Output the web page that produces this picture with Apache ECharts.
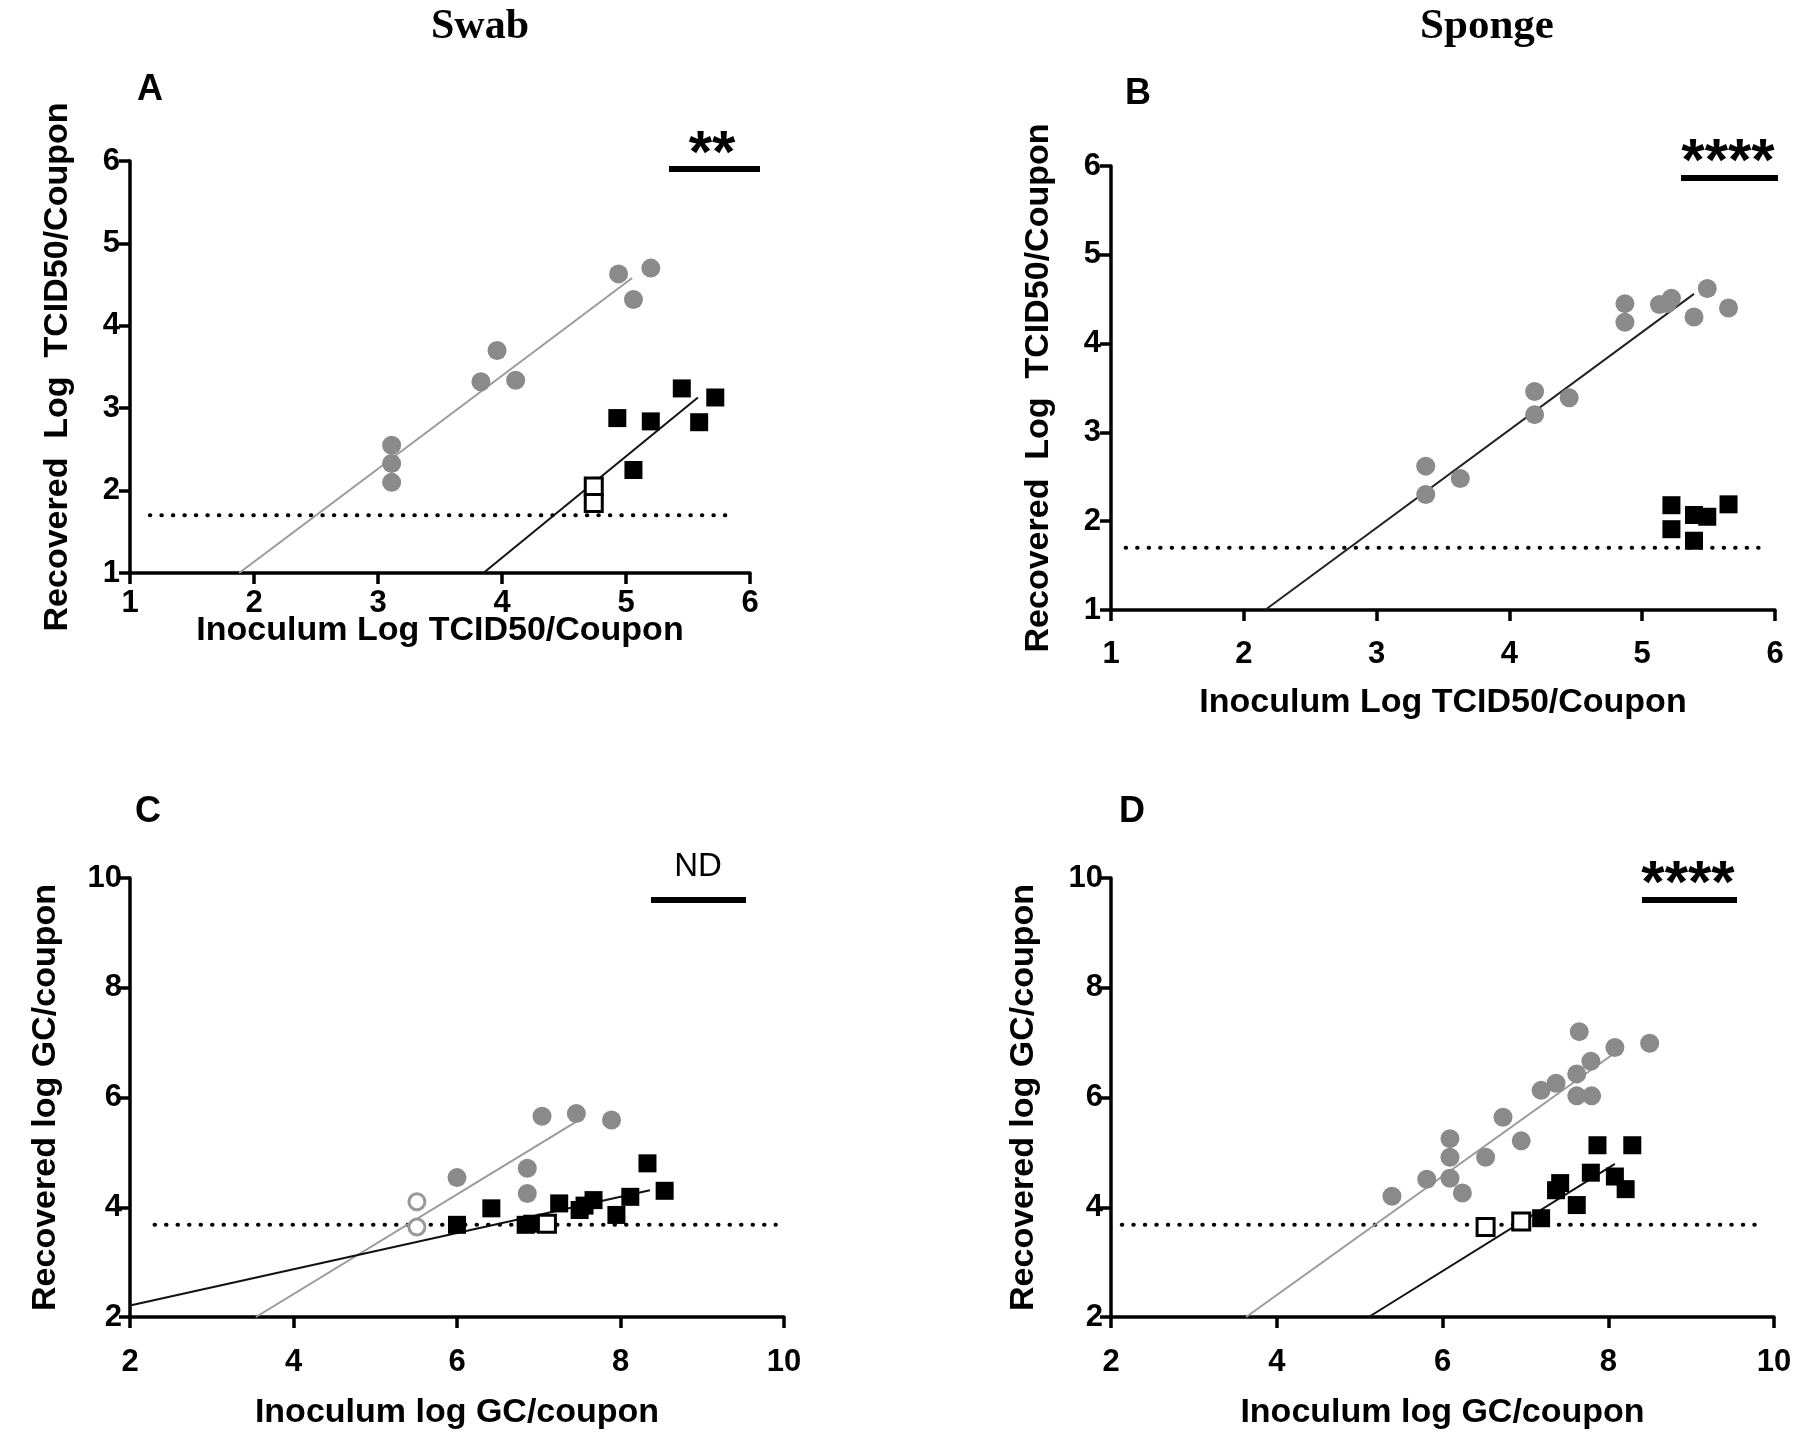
<!DOCTYPE html>
<html>
<head>
<meta charset="utf-8">
<script src="https://cdn.jsdelivr.net/npm/echarts@6/dist/echarts.min.js"></script>
<style>
  html, body { margin: 0; padding: 0; background: #fff; }
  #chart { width: 1800px; height: 1442px; }
</style>
</head>
<body>
<div id="chart"></div>
<script>
// panel A - swab, infectivity
const aGray = [[3.11, 2.55], [3.11, 2.33], [3.11, 2.10], [3.83, 3.32], [3.96, 3.70], [4.11, 3.34], [4.94, 4.63], [5.06, 4.32], [5.20, 4.70]];
const aBlack = [[4.93, 2.88], [5.06, 2.25], [5.20, 2.84], [5.45, 3.24], [5.59, 2.83], [5.72, 3.13]];
const aOpen = [[4.74, 2.05], [4.74, 1.85]];
const aGrayFit = [[1.88, 1], [5.05, 4.58]];
const aBlackFit = [[3.85, 1], [5.58, 3.13]];
const aLimit = [[1.16, 1.70], [5.86, 1.70]];

// panel B - sponge, infectivity
const bGray = [[3.37, 2.62], [3.37, 2.30], [3.63, 2.48], [4.19, 3.46], [4.19, 3.20], [4.45, 3.39], [4.87, 4.45], [4.87, 4.24], [5.13, 4.44], [5.19, 4.45], [5.22, 4.51], [5.39, 4.30], [5.49, 4.62], [5.65, 4.40]];
const bBlack = [[5.22, 2.18], [5.22, 1.91], [5.39, 2.07], [5.49, 2.05], [5.39, 1.78], [5.65, 2.19]];
const bFit = [[2.16, 1], [5.39, 4.56]];
const bLimit = [[1.11, 1.70], [5.91, 1.70]];

// panel C - swab, genome copies
const cGray = [[6.00, 4.54], [6.86, 4.71], [6.86, 4.25], [7.04, 5.66], [7.46, 5.71], [7.89, 5.59]];
const cGrayOpen = [[5.51, 4.10], [5.51, 3.64]];
const cBlack = [[6.00, 3.68], [6.42, 3.98], [6.84, 3.68], [6.92, 3.70], [7.25, 4.07], [7.50, 3.95], [7.56, 4.03], [7.67, 4.13], [7.95, 3.86], [8.12, 4.19], [8.33, 4.80], [8.54, 4.30]];
const cOpen = [[7.10, 3.70]];
const cGrayFit = [[3.54, 2], [7.48, 5.58]];
const cBlackFit = [[2, 2.21], [8.36, 4.31]];
const cLimit = [[2.3, 3.68], [9.9, 3.68]];

// panel D - sponge, genome copies
const dGray = [[5.39, 4.20], [5.81, 4.51], [6.09, 5.25], [6.09, 4.91], [6.09, 4.53], [6.24, 4.26], [6.52, 4.91], [6.73, 5.64], [6.95, 5.21], [7.19, 6.13], [7.37, 6.26], [7.62, 6.43], [7.65, 7.20], [7.62, 6.03], [7.80, 6.03], [7.79, 6.66], [8.08, 6.91], [8.50, 6.99]];
const dBlack = [[7.19, 3.80], [7.37, 4.31], [7.42, 4.44], [7.62, 4.04], [7.79, 4.63], [7.87, 5.13], [8.08, 4.56], [8.21, 4.33], [8.29, 5.13]];
const dOpen = [[6.52, 3.64], [6.95, 3.74]];
const dGrayFit = [[3.63, 2], [8.04, 6.77]];
const dBlackFit = [[5.11, 2], [8.08, 4.79]];
const dLimit = [[2.13, 3.68], [9.87, 3.68]];

// axis ranges: [min, max, interval]
const tcidRange = [1, 6, 1];
const gcRange = [2, 10, 2];

const GRAY = '#8a8a8a';
const FONT = 'Liberation Sans';

const grids = [
  { left: 130, top: 161, width: 620, height: 412 },
  { left: 1111, top: 166, width: 664, height: 444 },
  { left: 130, top: 878, width: 654, height: 439 },
  { left: 1111, top: 878, width: 663, height: 439 }
].map(g => Object.assign({ outerBoundsMode: 'none' }, g));

function axis(grid, range, name, gap, labelMargin) {
  return {
    gridIndex: grid,
    type: 'value', min: range[0], max: range[1], interval: range[2],
    name: name, nameLocation: 'middle', nameGap: gap, nameMoveOverlap: false,
    nameTextStyle: { fontFamily: FONT, fontWeight: 'bold', fontSize: 34, color: '#000' },
    axisLine: { onZero: false, lineStyle: { color: '#000', width: 3.5 } },
    axisTick: { show: true, length: 11, lineStyle: { color: '#000', width: 3.5 } },
    axisLabel: { margin: labelMargin, fontFamily: FONT, fontWeight: 'bold', fontSize: 31, color: '#000' },
    splitLine: { show: false }
  };
}

function scatter(i, data, kind) {
  const s = { type: 'scatter', xAxisIndex: i, yAxisIndex: i, data: data, z: 5, silent: true };
  if (kind === 'gray') Object.assign(s, { symbol: 'circle', symbolSize: 19, itemStyle: { color: GRAY, opacity: 1 } });
  if (kind === 'grayOpen') Object.assign(s, { symbol: 'circle', symbolSize: 16, itemStyle: { color: '#fff', borderColor: '#999', borderWidth: 3, opacity: 1 } });
  if (kind === 'black') Object.assign(s, { symbol: 'rect', symbolSize: 18, itemStyle: { color: '#000', opacity: 1 } });
  if (kind === 'open') Object.assign(s, { symbol: 'rect', symbolSize: 17, itemStyle: { color: '#fff', borderColor: '#000', borderWidth: 3, opacity: 1 }, z: 6 });
  return s;
}

function line(i, data, color, width) {
  return {
    type: 'line', xAxisIndex: i, yAxisIndex: i, data: data, showSymbol: false, silent: true, z: 3,
    lineStyle: { color: color, width: width }
  };
}
function dotted(i, data) {
  const s = line(i, data, '#000', 4);
  s.lineStyle.type = [0.5, 11];
  s.lineStyle.cap = 'round';
  return s;
}

const series = [
  dotted(0, aLimit), line(0, aGrayFit, '#9a9a9a', 2), line(0, aBlackFit, '#111', 2),
  scatter(0, aGray, 'gray'), scatter(0, aBlack, 'black'), scatter(0, aOpen, 'open'),
  dotted(1, bLimit), line(1, bFit, '#222', 2),
  scatter(1, bGray, 'gray'), scatter(1, bBlack, 'black'),
  dotted(2, cLimit), line(2, cGrayFit, '#9a9a9a', 2), line(2, cBlackFit, '#111', 2),
  scatter(2, cGray, 'gray'), scatter(2, cGrayOpen, 'grayOpen'), scatter(2, cBlack, 'black'), scatter(2, cOpen, 'open'),
  dotted(3, dLimit), line(3, dGrayFit, '#9a9a9a', 2), line(3, dBlackFit, '#111', 2),
  scatter(3, dGray, 'gray'), scatter(3, dBlack, 'black'), scatter(3, dOpen, 'open')
];

function txt(x, y, s, size, opts) {
  return {
    type: 'text', x: x, y: y, silent: true,
    style: Object.assign({ text: s, fontFamily: FONT, fontWeight: 'bold', fontSize: size, fill: '#000', align: 'center', verticalAlign: 'middle' }, opts || {})
  };
}
function bar(x1, x2, y) {
  return { type: 'rect', silent: true, shape: { x: x1, y: y - 3, width: x2 - x1, height: 6 }, style: { fill: '#000' } };
}

const graphic = [
  txt(480, 27, 'Swab', 42, { fontFamily: 'Liberation Serif' }),
  txt(1487, 27, 'Sponge', 43, { fontFamily: 'Liberation Serif' }),
  txt(150, 90, 'A', 36), txt(1138, 94, 'B', 36), txt(148, 812, 'C', 36), txt(1132, 812, 'D', 36),
  txt(712, 155, '**', 60), bar(669, 760, 169),
  txt(1728, 163, '****', 60), bar(1681, 1778, 178),
  txt(698, 867, 'ND', 33, { fontWeight: 'normal' }), bar(651, 746, 900),
  txt(1688, 885, '****', 60), bar(1642, 1737, 900)
];

const option = {
  animation: false,
  backgroundColor: '#fff',
  grid: grids,
  xAxis: [
    axis(0, tcidRange, 'Inoculum Log TCID50/Coupon', 41, 15),
    axis(1, tcidRange, 'Inoculum Log TCID50/Coupon', 76, 29),
    axis(2, gcRange, 'Inoculum log GC/coupon', 79, 30),
    axis(3, gcRange, 'Inoculum log GC/coupon', 79, 30)
  ],
  yAxis: [
    axis(0, tcidRange, 'Recovered  Log  TCID50/Coupon', 55, 10),
    axis(1, tcidRange, 'Recovered  Log  TCID50/Coupon', 55, 10),
    axis(2, gcRange, 'Recovered log GC/coupon', 67, 8),
    axis(3, gcRange, 'Recovered log GC/coupon', 70, 8)
  ],
  series: series,
  graphic: graphic
};

const chart = echarts.init(document.getElementById('chart'));
chart.setOption(option);
</script>
</body>
</html>
